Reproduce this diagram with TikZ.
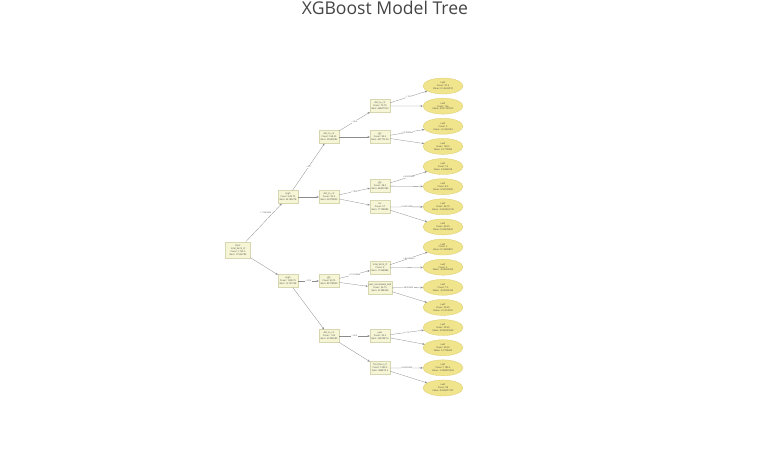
\documentclass[tikz,border=0pt]{standalone}
\usepackage{fontspec}
\setmainfont{Open Sans}
\usetikzlibrary{arrows.meta,positioning,shapes.geometric}
\definecolor{splitfill}{RGB}{246,246,214}
\definecolor{splitline}{RGB}{214,214,176}
\definecolor{leaffill}{RGB}{240,228,140}
\definecolor{leafline}{RGB}{218,204,112}
\definecolor{titlegray}{RGB}{68,68,68}

\begin{document}
\begin{tikzpicture}[x=1pt,y=-1pt,on grid,
    split/.style={rectangle,draw=splitline,fill=splitfill,line width=0.3pt,
      align=center,inner sep=0.8pt,minimum width=20pt,minimum height=13pt,
      font=\fontsize{2.3}{2.9}\selectfont,text=titlegray},
    leaf/.style={ellipse,draw=leafline,fill=leaffill,line width=0.3pt,
      align=center,inner sep=0pt,minimum width=40pt,minimum height=16pt,
      font=\fontsize{2.3}{2.9}\selectfont,text=titlegray},
    lbl/.style={fill=white,inner sep=0.3pt,font=\fontsize{2}{2.4}\selectfont,text=titlegray},
    every edge/.style={draw=gray!90,line width=0.3pt,-{Stealth[length=2.4pt,width=2pt]}}]
   \useasboundingbox (0,0) rectangle (770,475);
   \node[font=\fontsize{17.6}{20}\selectfont,text=titlegray,anchor=base] (title) at (385,14) {XGBoost Model Tree};

   \node[split,minimum width=25pt,minimum height=16pt] (root) at (238,250)
     {Root\\total\_bsmt\_sf\\Cover: 1752.5\\Gain: 17526783};

   % Primo livello
   \node[split] (hi) [above right=53pt and 50pt of root] {High\\Cover: 243.75\\Gain: 24183278};
   \node[split] (lo) [below right=31pt and 50pt of root] {High\\Cover: 1508.75\\Gain: 12127768};

   % Secondo livello
   \node[split] (hia) [above right=60pt and 41pt of hi] {dist\_to\_ctr\\Cover: 168.25\\Gain: 29603082};
   \node[split] (hib) [right=41pt of hi] {dist\_to\_ctr\\Cover: 95.5\\Gain: 29370800};
   \node[split] (loa) [right=41pt of lo] {gfy\\Cover: 4575\\Gain: 80178890};
   \node[split] (lob) [below right=55pt and 41pt of lo] {dist\_to\_ctr\\Cover: 1.45\\Gain: 37490580};

   % Terzo livello
   \node[split] (hia1) [above right=31pt and 51pt of hia] {dist\_to\_ctr\\Cover: 73.75\\Gain: 4680778.5};
   \node[split] (hia2) [right=51pt of hia] {gfy\\Cover: 94.5\\Gain: 467773.35};
   \node[split] (hib1) [above right=11pt and 51pt of hib] {gfy\\Cover: 38.5\\Gain: 44807080};
   \node[split] (hib2) [below right=10pt and 51pt of hib] {lot\\Cover: 57\\Gain: 17198889};
   \node[split] (loa1) [above right=13pt and 51pt of loa] {total\_bsmt\_sf\\Cover: 4\\Gain: 11948889};
   \node[split] (loa2) [below right=7pt and 51pt of loa] {year\_remodeled\_add\\Cover: 36.75\\Gain: 21988330};
   \node[split] (lob1) [right=51pt of lob] {year\\Cover: 95.5\\Gain: 2587087.6};
   \node[split] (lob2) [below right=32pt and 51pt of lob] {first\_floor\_sf\\Cover: 1993.5\\Gain: 584873.5};

   % Foglie
   \node[leaf] (f1) [above right=20pt and 63pt of hia1] {Leaf\\Cover: 97.5\\Value: 0.14632074};
   \foreach \c/\v [count=\i from 2, evaluate=\i as \p using int(\i-1)] in
     {166/0.021109913, 2/-0.1402234, 140.5/0.1779889, 16/0.2284818,
      8.5/0.04749980, 54.75/-0.063452190, 40.25/0.04305830, 2/0.13489881,
      2/-0.08325004, 7.5/-0.04993332, 29.25/-0.1414578, 50.25/0.045059023,
      50.25/0.1794600, 1185.5/-0.008457469, 98/0.038477197}
     \node[leaf] (f\i) [below=20.13pt of f\p] {Leaf\\Cover: \c\\Value: \v};

   \path
    (root) edge node[lbl,pos=0.75,left=1pt] {< 1150.5003} (hi)
           edge (lo)
    (hi) edge node[lbl] {< 6.5} (hia)
         edge (hib)
    (lo) edge node[lbl] {< 29.5} (loa)
         edge (lob)
    (hia) edge node[lbl] {< 40.5} (hia1)
          edge (hia2)
    (hib) edge node[lbl] {< 1993} (hib1)
          edge (hib2)
    (loa) edge node[lbl] {< 31.169866} (loa1)
          edge (loa2)
    (lob) edge node[lbl] {< 20.5} (lob1)
          edge (lob2)
    (hia1) edge node[lbl] {< 19.5} (f1)
           edge (f2)
    (hia2) edge node[lbl] {< 37.589066} (f3)
           edge (f4)
    (hib1) edge node[lbl] {< 40.833333} (f5)
           edge (f6)
    (hib2) edge node[lbl] {< 3650.5098} (f7)
           edge (f8)
    (loa1) edge node[lbl] {< 40.833333} (f9)
           edge (f10)
    (loa2) edge node[lbl] {< 4.8333333} (f11)
           edge (f12)
    (lob1) edge node[lbl] {< 72} (f13)
           edge (f14)
    (lob2) edge node[lbl] {< 40.833333} (f15)
           edge (f16);
\end{tikzpicture}
\end{document}
